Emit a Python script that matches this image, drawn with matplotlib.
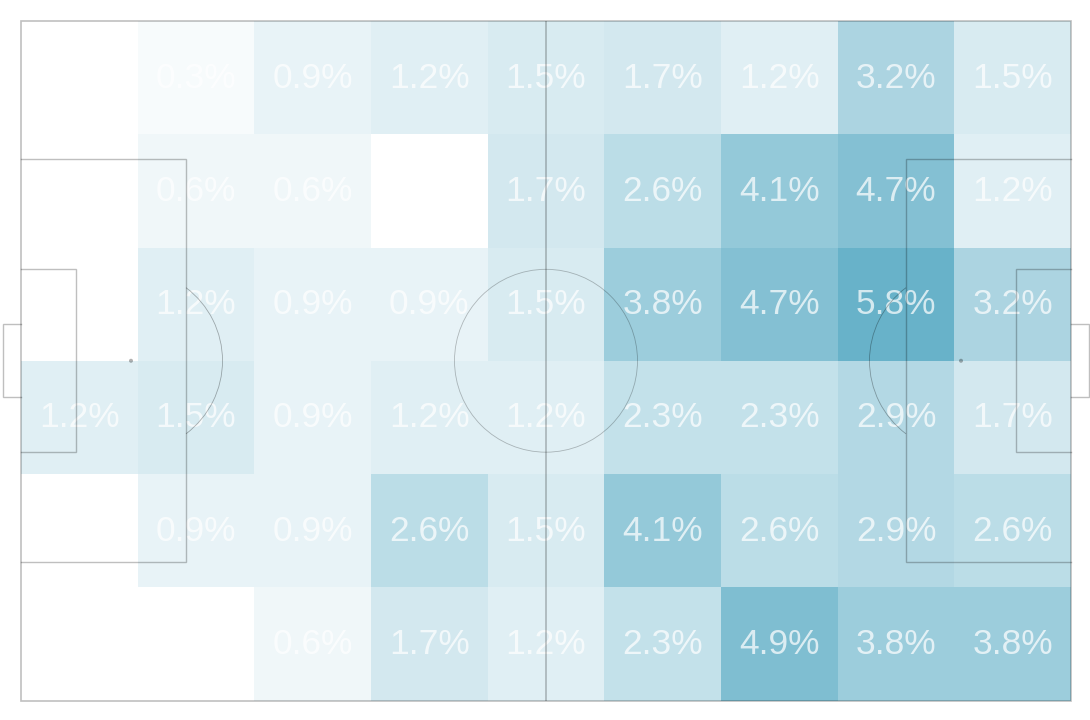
import numpy as np
import matplotlib
matplotlib.use("Agg")
import matplotlib.pyplot as plt
from matplotlib.colors import LinearSegmentedColormap
from matplotlib.patches import Rectangle, Circle, Arc

row0 = [0, 0.3, 0.9, 1.2, 1.5, 1.7, 1.2, 3.2, 1.5]
row1 = [0, 0.6, 0.6, 0, 1.7, 2.6, 4.1, 4.7, 1.2]
row2 = [0, 1.2, 0.9, 0.9, 1.5, 3.8, 4.7, 5.8, 3.2]
row3 = [1.2, 1.5, 0.9, 1.2, 1.2, 2.3, 2.3, 2.9, 1.7]
row4 = [0, 0.9, 0.9, 2.6, 1.5, 4.1, 2.6, 2.9, 2.6]
row5 = [0, 0, 0.6, 1.7, 1.2, 2.3, 4.9, 3.8, 3.8]
values = np.array([row0, row1, row2, row3, row4, row5])

pitch_len, pitch_wid = 105.0, 68.0
W, H = 1090, 720
fig = plt.figure(figsize=(W / 100, H / 100), dpi=100)
ax = fig.add_axes([21 / W, 1 - 700.5 / H, 1050 / W, 679.5 / H])
ax.set_xlim(0, pitch_len)
ax.set_ylim(pitch_wid, 0)
ax.axis("off")

cmap = LinearSegmentedColormap.from_list("heat", ["#ffffff", "#68b2c9"])
xe = np.linspace(0, pitch_len, values.shape[1] + 1)
ye = np.linspace(0, pitch_wid, values.shape[0] + 1)
ax.pcolormesh(xe, ye, values, cmap=cmap, vmin=0, vmax=5.8, edgecolors="none", zorder=1)

for r in range(values.shape[0]):
    for c in range(values.shape[1]):
        if values[r, c] > 0:
            ax.text((xe[c] + xe[c + 1]) / 2, (ye[r] + ye[r + 1]) / 2 + 0.05,
                    f"{values[r, c]:.1f}%", ha="center", va="center",
                    family="Liberation Sans", fontsize=25.5, color="white",
                    alpha=0.72, zorder=2)

line = (0, 0, 0, 0.25)
thick, mid, thin = 1.2, 1.0, 0.6
cy = pitch_wid / 2


def open_box(x0, sign, depth, half):
    ax.plot([x0, x0 + sign * depth, x0 + sign * depth, x0],
            [cy - half, cy - half, cy + half, cy + half],
            color=line, lw=mid, zorder=3, clip_on=False, solid_joinstyle="miter")


ax.add_patch(Rectangle((0, 0), pitch_len, pitch_wid, fill=False, edgecolor=line, lw=thick, zorder=3, clip_on=False))
ax.plot([pitch_len / 2] * 2, [0, pitch_wid], color=line, lw=thick, zorder=3)
for x0, sign in ((0, 1), (pitch_len, -1)):
    open_box(x0, sign, 16.5, 20.16)
    open_box(x0, sign, 5.5, 9.16)
    open_box(x0, -sign, 1.8, 3.66)
    ax.add_patch(Circle((x0 + sign * 11, cy), 0.2, facecolor=(0, 0, 0, 0.3), edgecolor="none", zorder=3))
ax.add_patch(Circle((pitch_len / 2, cy), 9.15, fill=False, edgecolor=line, lw=thin, zorder=3))
ax.add_patch(Arc((11, cy), 18.3, 18.3, theta1=-53.05, theta2=53.05, lw=thin, edgecolor=(0, 0, 0, 0.3), zorder=3))
ax.add_patch(Arc((pitch_len - 11, cy), 18.3, 18.3, theta1=126.95, theta2=233.05, lw=thin, edgecolor=(0, 0, 0, 0.3), zorder=3))

fig.savefig("out.png", dpi=100, facecolor="white")
